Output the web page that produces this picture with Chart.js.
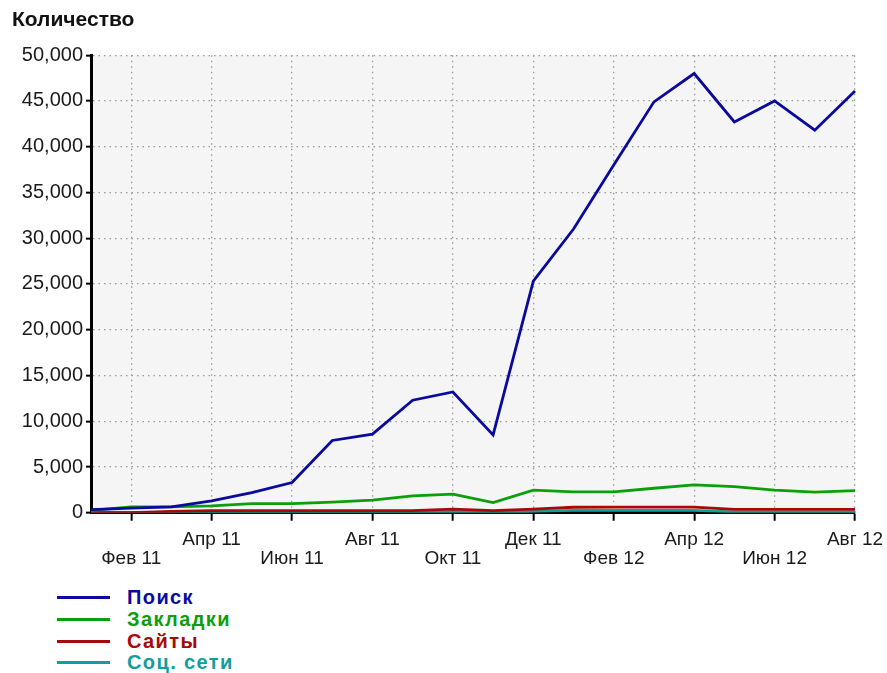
<!DOCTYPE html>
<html>
<head>
<meta charset="utf-8">
<script src="https://cdn.jsdelivr.net/npm/chart.js@4.4.0/dist/chart.umd.min.js"></script>
<style>
    body { margin: 0; background: #fff; }
    #wrap { position: relative; width: 887px; height: 580px; }
    #legend { position: absolute; left: 57px; top: 587px; font-family: 'Liberation Sans', Arial, sans-serif; font-weight: bold; font-size: 20px; letter-spacing: 1.4px; }
    #legend div { height: 21.7px; display: flex; align-items: center; }
    #legend .line { display: inline-block; width: 53px; height: 3px; margin-right: 17px; }
</style>
</head>
<body>
<div id="wrap"><canvas id="countChart"></canvas></div>
<div id="legend"></div>
<script>
var months = ['Янв 11', 'Фев 11', 'Мар 11', 'Апр 11', 'Май 11', 'Июн 11', 'Июл 11', 'Авг 11', 'Сен 11', 'Окт 11', 'Ноя 11', 'Дек 11',
    'Янв 12', 'Фев 12', 'Мар 12', 'Апр 12', 'Май 12', 'Июн 12', 'Июл 12', 'Авг 12'];
var search = [350, 500, 650, 1300, 2200, 3300, 7900, 8600, 12300, 13200, 8500, 25300, 31000, 38000, 44900, 48000, 42700, 45000, 41800, 46100];
var bookmarks = [250, 650, 650, 750, 1000, 1000, 1160, 1380, 1850, 2030, 1120, 2470, 2280, 2280, 2680, 3040, 2860, 2470, 2250, 2420];
var sites = [0, 0, 150, 230, 230, 230, 230, 230, 230, 400, 230, 400, 600, 620, 620, 620, 360, 360, 360, 360];
var social = [80, 30, 50, 50, 30, 20, 20, 20, 30, 150, 30, 150, 250, 250, 250, 250, 100, 100, 100, 100];
var yTicks = [0, 5000, 10000, 15000, 20000, 25000, 30000, 35000, 40000, 45000, 50000];

var fontFamily = "'Liberation Sans', Arial, sans-serif";

var plotBackground = {
    id: 'plotBackground',
    beforeDraw: function(chart) {
        var a = chart.chartArea;
        chart.ctx.save();
        chart.ctx.fillStyle = '#f5f5f5';
        chart.ctx.fillRect(a.left, a.top, a.right - a.left, a.bottom - a.top);
        chart.ctx.restore();
    }
};

function series(label, data, color) {
    return {
        label: label,
        data: data,
        borderColor: color,
        backgroundColor: color,
        borderWidth: 2.8,
        pointRadius: 0,
        tension: 0,
        fill: false,
    };
}

var countChartCanvas = document.getElementById('countChart').getContext('2d');
var countChart = new Chart(countChartCanvas, {
    type: 'line',
    data: {
        labels: months,
        datasets: [
            series('Поиск', search, '#0a0a9c'),
            series('Закладки', bookmarks, '#0c9e0c'),
            series('Сайты', sites, '#a80808'),
            series('Соц. сети', social, '#139e9e'),
        ],
    },
    plugins: [plotBackground],
    options: {
        responsive: true,
        maintainAspectRatio: false,
        animation: false,
        layout: { padding: { left: 12, right: 32, top: 0, bottom: 2 } },
        plugins: {
            legend: { display: false },
            tooltip: { enabled: false },
            title: {
                display: true,
                text: 'Количество',
                align: 'start',
                color: '#111',
                font: { family: fontFamily, size: 21, weight: 'bold' },
                padding: { top: 8, bottom: 22 },
            },
        },
        scales: {
            x: {
                offset: false,
                afterFit: function(scale) { scale.paddingRight = 0; scale.paddingLeft = 0; },
                grid: {
                    color: function(ctx) { return ctx.index % 2 === 1 ? '#999' : 'transparent'; },
                    tickColor: function(ctx) { return ctx.index % 2 === 1 ? '#000' : 'transparent'; },
                    tickLength: 8,
                    tickWidth: 2,
                    lineWidth: 1.3,
                },
                border: { color: '#000', width: 3, dash: [1.5, 4] },
                ticks: {
                    autoSkip: false,
                    maxRotation: 0,
                    padding: 10,
                    color: '#1a1a1a',
                    font: { family: fontFamily, size: 19, lineHeight: 0.98 },
                    callback: function(value, index) {
                        var label = months[index];
                        if (index % 4 === 1) return ['', label];
                        if (index % 4 === 3) return [label, ''];
                        return '';
                    },
                },
            },
            y: {
                min: 0,
                max: 50000,
                afterFit: function(scale) { scale.width = 79; },
                afterBuildTicks: function(scale) {
                    scale.ticks = yTicks.map(function(v) { return { value: v }; });
                },
                grid: {
                    color: '#999',
                    tickColor: '#000',
                    tickLength: 5,
                    tickWidth: 2,
                    lineWidth: 1.3,
                },
                border: { color: '#000', width: 3, dash: [1.5, 4] },
                ticks: {
                    padding: 3,
                    color: '#1a1a1a',
                    font: { family: fontFamily, size: 20 },
                    callback: function(value) { return value.toLocaleString('en-US'); },
                },
            },
        },
    },
});

var legend = document.getElementById('legend');
countChart.data.datasets.forEach(function(ds) {
    var row = document.createElement('div');
    var line = document.createElement('span');
    line.className = 'line';
    line.style.background = ds.borderColor;
    var text = document.createElement('span');
    text.textContent = ds.label;
    text.style.color = ds.borderColor;
    row.appendChild(line);
    row.appendChild(text);
    legend.appendChild(row);
});
</script>
</body>
</html>
